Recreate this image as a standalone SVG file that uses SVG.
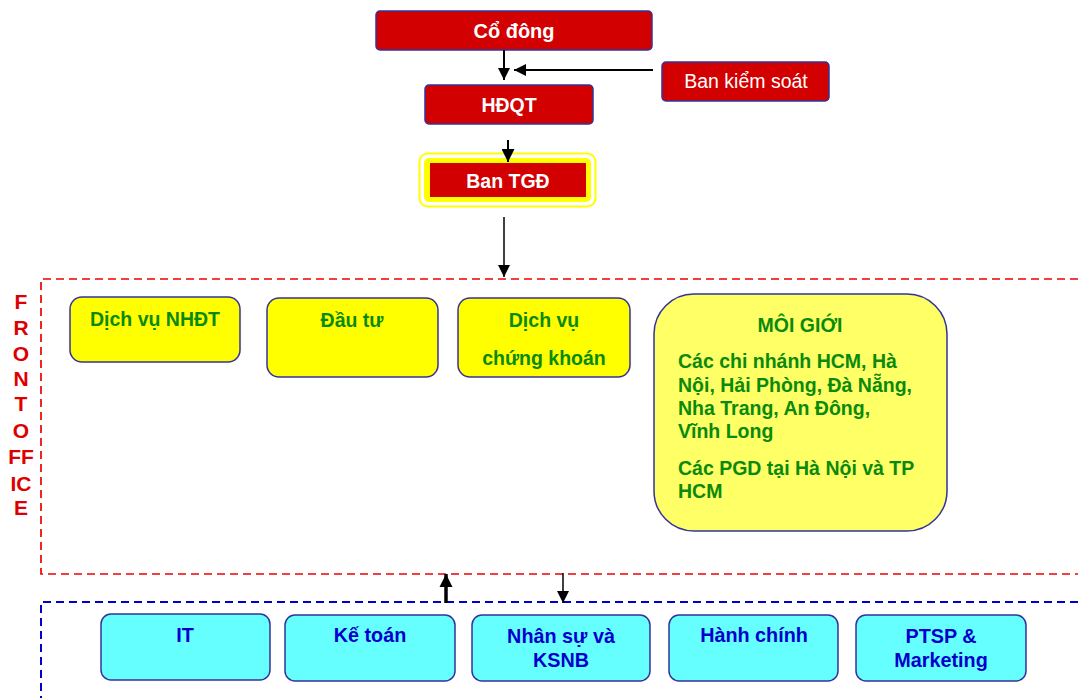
<svg xmlns="http://www.w3.org/2000/svg" width="1078" height="698" viewBox="0 0 1078 698">
<defs>
<style>
.red{fill:#D20000;stroke:#333399;stroke-width:1.5}
.yel{fill:#FFFF00;stroke:#333399;stroke-width:1.5}
.cyan{fill:#66FFFF;stroke:#333399;stroke-width:1.5}
.wt{font-family:"Liberation Sans",Arial,sans-serif;fill:#FFFFFF;text-anchor:middle}
.gt{font-family:"Liberation Sans",Arial,sans-serif;fill:#0A8A0A;font-weight:bold;font-size:19.5px}
.bt{font-family:"Liberation Sans",Arial,sans-serif;fill:#0000CC;font-weight:bold;font-size:19.8px;text-anchor:middle}
.ft{font-family:"Liberation Sans",Arial,sans-serif;fill:#DD0000;font-weight:bold;font-size:21px;text-anchor:middle}
.ln{stroke:#000;fill:none}
</style>
<marker id="ah" viewBox="0 0 10 10" refX="10" refY="5" markerWidth="13" markerHeight="12" markerUnits="userSpaceOnUse" orient="auto">
<path d="M0,0 L10,5 L0,10 z" fill="#000"/>
</marker>
<marker id="ahs" viewBox="0 0 10 10" refX="10" refY="5" markerWidth="14" markerHeight="13" markerUnits="userSpaceOnUse" orient="auto">
<path d="M0,0 L10,5 L0,10 z" fill="#000"/>
</marker>
<marker id="ahb" viewBox="0 0 10 10" refX="10" refY="5" markerWidth="13" markerHeight="14" markerUnits="userSpaceOnUse" orient="auto">
<path d="M0,0 L10,5 L0,10 z" fill="#000"/>
</marker>
</defs>
<g id="frames">
<path d="M1078,279 H41 V574 H1078" fill="none" stroke="#EE0000" stroke-width="1.7" stroke-dasharray="8,5"/>
<path d="M1078,602 H41 V698" fill="none" stroke="#0000CC" stroke-width="2" stroke-dasharray="8,5"/>
</g>
<g id="front-office-label">
<text class="ft" x="21" y="309">F</text>
<text class="ft" x="21" y="335">R</text>
<text class="ft" x="21" y="361">O</text>
<text class="ft" x="21" y="386">N</text>
<text class="ft" x="21" y="411">T</text>
<text class="ft" x="21" y="438">O</text>
<text class="ft" x="21" y="464">FF</text>
<text class="ft" x="21" y="491">IC</text>
<text class="ft" x="21" y="515">E</text>
</g>
<g id="co-dong">
<rect class="red" x="376" y="11" width="276" height="39" rx="4"/>
<text class="wt" x="514" y="38" font-size="20" font-weight="bold">Cổ đông</text>
</g>
<g id="ban-kiem-soat">
<rect class="red" x="662" y="62" width="167" height="39" rx="4"/>
<text class="wt" x="746" y="88" font-size="19.5">Ban kiểm soát</text>
</g>
<g id="hdqt">
<rect class="red" x="425" y="85" width="168" height="39" rx="4"/>
<text class="wt" x="509" y="112" font-size="19.5" font-weight="bold">HĐQT</text>
</g>
<g id="ban-tgd">
<rect x="419.5" y="153.5" width="176" height="53" rx="8" fill="#FFFFFF" stroke="#FFFF00" stroke-width="2"/>
<rect x="424" y="158" width="167" height="44" rx="5" fill="#FFFF00"/>
<rect x="430" y="163" width="156" height="34" fill="#D20000"/>
<text class="wt" x="508" y="188" font-size="19.5" font-weight="bold">Ban TGĐ</text>
</g>
<g id="dich-vu-nhdt">
<rect class="yel" x="70" y="297" width="170" height="65" rx="12"/>
<text class="gt" x="155" y="326" text-anchor="middle">Dịch vụ NHĐT</text>
</g>
<g id="dau-tu">
<rect class="yel" x="267" y="298" width="171" height="79" rx="12"/>
<text class="gt" x="352" y="327" text-anchor="middle">Đầu tư</text>
</g>
<g id="dich-vu-ck">
<rect class="yel" x="458" y="298" width="172" height="79" rx="12"/>
<text class="gt" x="544" y="327" text-anchor="middle">Dịch vụ</text>
<text class="gt" x="544" y="365" text-anchor="middle">chứng khoán</text>
</g>
<g id="moi-gioi">
<rect x="654" y="294" width="293" height="237" rx="40" fill="#FFFF66" stroke="#333399" stroke-width="1.5"/>
<text class="gt" x="800" y="332" text-anchor="middle" font-size="19">MÔI GIỚI</text>
<text class="gt" x="678" y="368">Các chi nhánh HCM, Hà</text>
<text class="gt" x="678" y="392">Nội, Hải Phòng, Đà Nẵng,</text>
<text class="gt" x="678" y="415">Nha Trang, An Đông,</text>
<text class="gt" x="678" y="438">Vĩnh Long</text>
<text class="gt" x="678" y="475">Các PGD tại Hà Nội và TP</text>
<text class="gt" x="678" y="498">HCM</text>
</g>
<g id="it">
<rect class="cyan" x="101" y="614" width="169" height="66" rx="10"/>
<text class="bt" x="185" y="642">IT</text>
</g>
<g id="ke-toan">
<rect class="cyan" x="285" y="615" width="170" height="66" rx="10"/>
<text class="bt" x="370" y="642">Kế toán</text>
</g>
<g id="nhan-su">
<rect class="cyan" x="472" y="615" width="178" height="66" rx="10"/>
<text class="bt" x="561" y="643">Nhân sự và</text>
<text class="bt" x="561" y="667">KSNB</text>
</g>
<g id="hanh-chinh">
<rect class="cyan" x="669" y="615" width="169" height="66" rx="10"/>
<text class="bt" x="754" y="642">Hành chính</text>
</g>
<g id="ptsp">
<rect class="cyan" x="856" y="615" width="170" height="66" rx="10"/>
<text class="bt" x="941" y="643">PTSP &amp;</text>
<text class="bt" x="941" y="667">Marketing</text>
</g>
<g id="connectors">
<line class="ln" x1="504" y1="50" x2="504" y2="80" marker-end="url(#ah)" stroke-width="2"/>
<line class="ln" x1="653" y1="70" x2="514" y2="70" marker-end="url(#ah)" stroke-width="2"/>
<line class="ln" x1="508" y1="140" x2="508" y2="162" marker-end="url(#ahs)" stroke-width="2"/>
<line class="ln" x1="504" y1="217" x2="504" y2="277" marker-end="url(#ah)" stroke-width="1.5"/>
<line class="ln" x1="446" y1="603" x2="446" y2="574" marker-end="url(#ahb)" stroke-width="3.5"/>
<line class="ln" x1="563" y1="573" x2="563" y2="603" marker-end="url(#ah)" stroke-width="1.5"/>
</g>
</svg>
